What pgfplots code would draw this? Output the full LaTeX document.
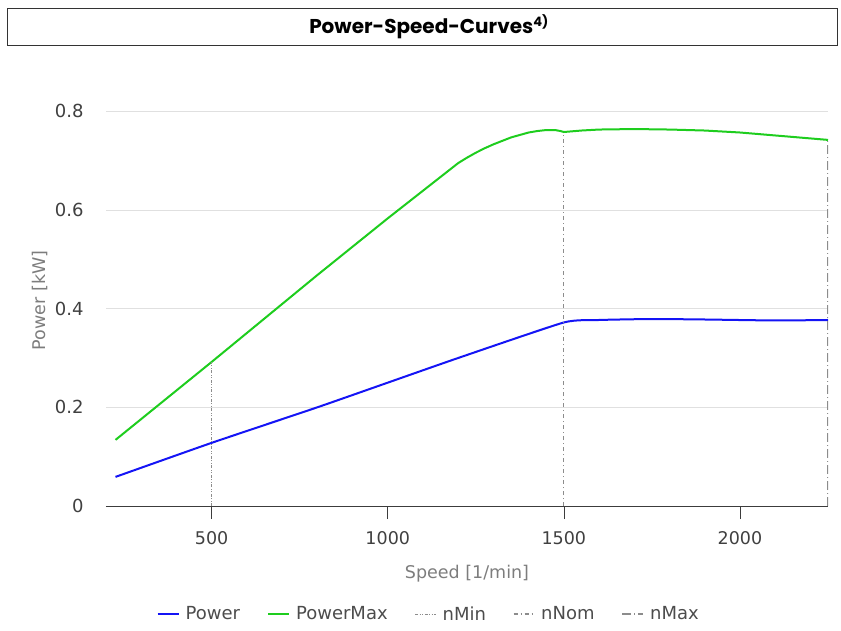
\documentclass[border=0pt]{standalone}
\usepackage{pgfplots}
\pgfplotsset{compat=1.18}
\usepackage{fontspec}
\setmainfont{DejaVu Sans}
\newfontfamily\poppins{Poppins}
\definecolor{pblue}{RGB}{20,20,245}
\definecolor{pgreen}{RGB}{30,205,30}
\definecolor{refgray}{RGB}{140,140,140}
\definecolor{labgray}{RGB}{125,125,125}
\definecolor{tickgray}{RGB}{60,60,60}
\begin{document}
\begin{tikzpicture}[x=1pt,y=1pt]
\useasboundingbox (0,0) rectangle (841,630);
\draw[line width=0.9pt, draw=black!80] (7,585) rectangle (837,622);
\node[font=\poppins\bfseries\fontsize{20}{24}\selectfont] at (429,603.5) {Power-Speed-Curves\textsuperscript{\fontsize{13}{15}\selectfont 4)}};
\begin{axis}[
  at={(106pt,124pt)}, anchor=south west,
  scale only axis, width=722pt, height=411pt,
  xmin=200, xmax=2250, ymin=0, ymax=0.833,
  axis x line*=bottom, axis y line*=left,
  y axis line style={draw=none},
  x axis line style={draw=tickgray, line width=0.8pt, -},
  xtick={500,1000,1500,2000},
  ytick={0,0.2,0.4,0.6,0.8},
  yticklabels={0,0.2,0.4,0.6,0.8},
  xticklabels={500,1000,1500,2000},
  ymajorgrids, grid style={draw=black!12, line width=0.7pt},
  y tick style={draw=none},
  x tick style={draw=tickgray, line width=0.7pt},
  tick align=outside, major tick length=13pt,
  xticklabel style={font=\fontsize{17.5}{20}\selectfont, text=black!75, yshift=-9pt},
  yticklabel style={font=\fontsize{18}{20}\selectfont, text=black!75, xshift=-6pt},
  xlabel={Speed [1/min]}, ylabel={Power [kW]},
  xlabel style={font=\fontsize{17.5}{20}\selectfont, text=labgray, yshift=-14pt},
  ylabel style={font=\fontsize{17.5}{20}\selectfont, text=labgray, yshift=0pt},
  legend columns=5,
  legend style={at={(0.447,-0.263)}, anchor=center, draw=none, fill=none,
    font=\fontsize{18}{20}\selectfont, text=black!70,
    /tikz/every odd column/.append style={column sep=4pt},
    /tikz/every even column/.append style={column sep=25pt}},
  legend image code/.code={\draw[#1] (0pt,0pt) -- (21pt,0pt);},
]
\addplot[pblue, line width=2pt, smooth, tension=0.3] coordinates {
 (227,0.059) (500,0.128) (800,0.200) (1000,0.250) (1200,0.300) (1500,0.372)
 (1600,0.377) (1750,0.379) (1900,0.378) (2100,0.376) (2250,0.377)};
\addlegendentry{Power}
\addplot[pgreen, line width=2pt] coordinates {
 (227,0.134) (500,0.292) (800,0.468) (1000,0.583) (1200,0.695) (1225,0.706) (1250,0.716) (1275,0.725)
 (1300,0.733) (1325,0.740) (1350,0.747) (1375,0.752) (1400,0.757) (1425,0.760) (1450,0.762)
 (1475,0.762) (1490,0.760) (1500,0.758) (1550,0.761) (1600,0.763) (1700,0.764) (1800,0.763)
 (1900,0.761) (2000,0.757) (2100,0.751) (2250,0.742)};
\addlegendentry{PowerMax}
\addplot[refgray, line width=1pt, dash pattern=on 3pt off 1.5pt on 1pt off 1.5pt on 1pt off 1.5pt] coordinates {(500,0) (500,0.292)};
\addlegendentry{nMin}
\addplot[refgray, line width=1.2pt, dash pattern=on 4pt off 3pt on 1pt off 3pt] coordinates {(1500,0) (1500,0.758)};
\addlegendentry{nNom}
\addplot[refgray, line width=1.6pt, dash pattern=on 9pt off 3pt on 1pt off 3pt] coordinates {(2250,0) (2250,0.742)};
\addlegendentry{nMax}
\end{axis}
\end{tikzpicture}
\end{document}
